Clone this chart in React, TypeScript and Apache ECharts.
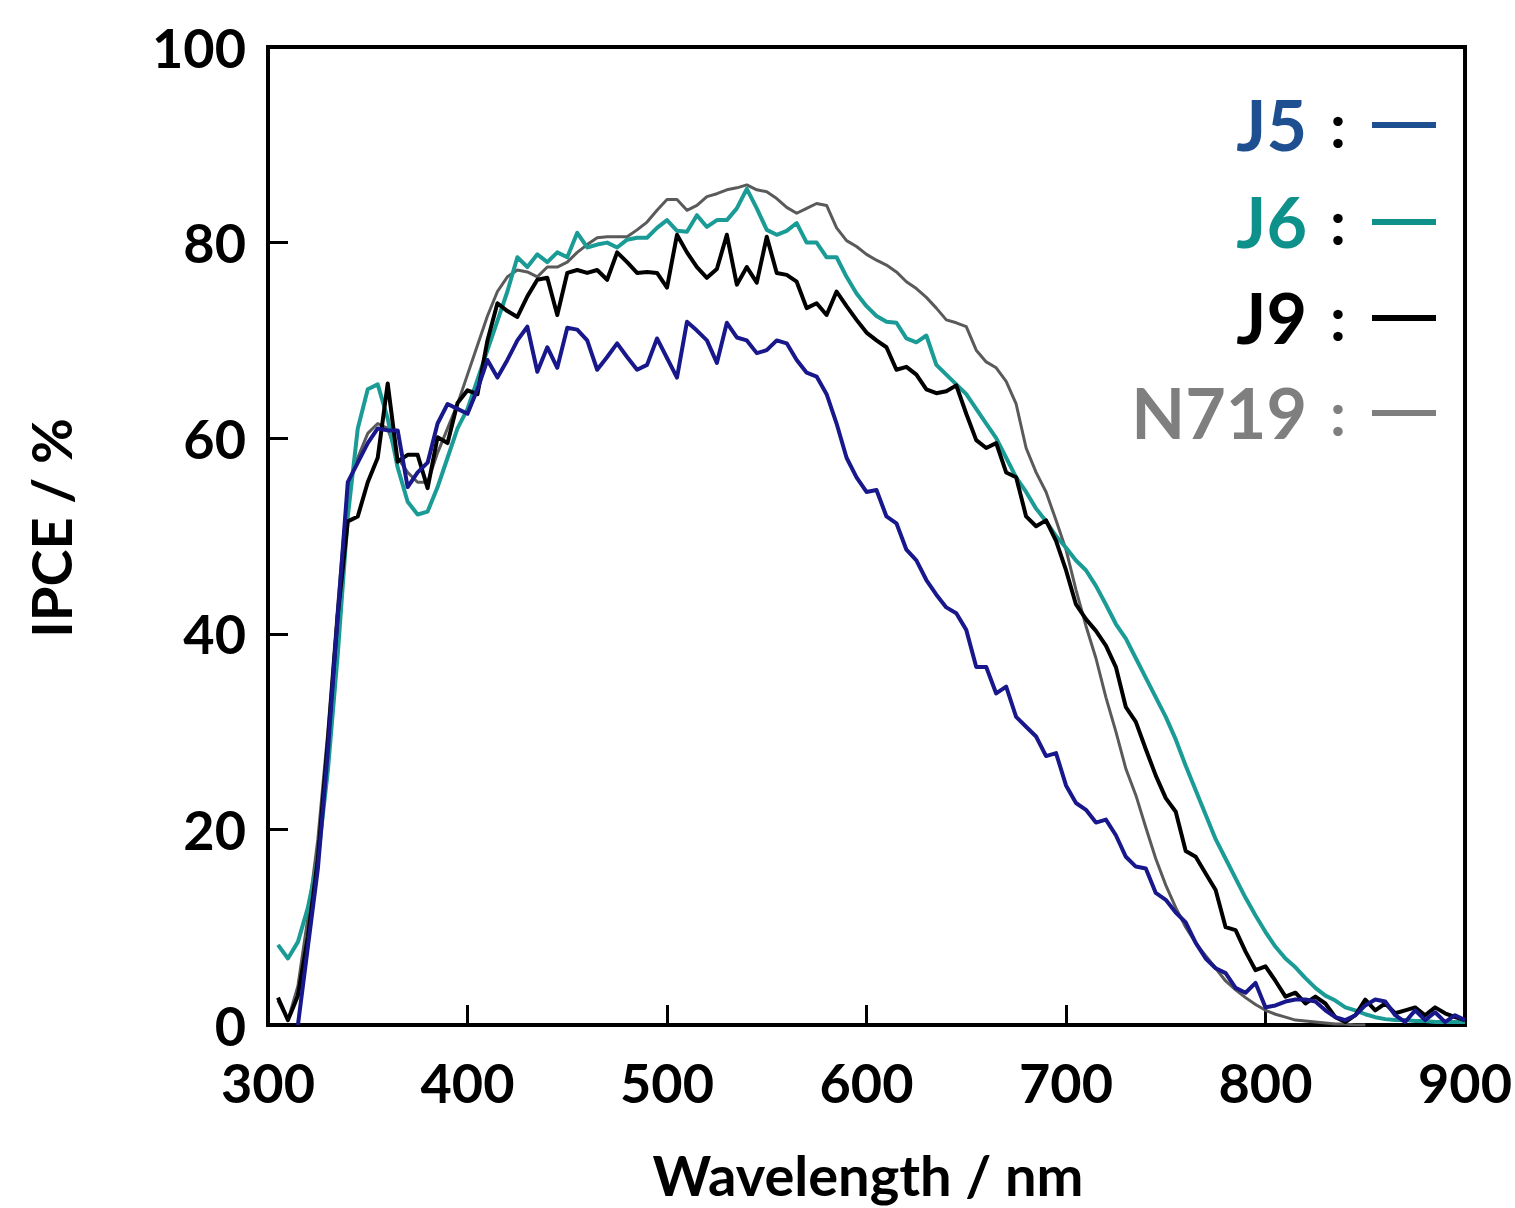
import React, { useEffect, useRef } from "react";
import * as echarts from "echarts";

const wavelengths: number[] = [];
for (let w = 305; w <= 900; w += 5) wavelengths.push(w);

const xTicks = [300, 400, 500, 600, 700, 800, 900];
const yTicks = [0, 20, 40, 60, 80, 100];

const j6 = [
  8.2, 6.8, 8.5, 12, 17, 26, 38, 52, 61, 65,
  65.5, 62, 57, 53.5, 52.2, 52.5, 55, 58, 61, 63,
  66, 69, 72, 75, 78.5, 77.5, 78.8, 78, 79, 78.5,
  81, 79.5, 79.8, 80, 79.5, 80.3, 80.5, 80.5, 81.5, 82.3,
  81.2, 81.1, 82.8, 81.6, 82.3, 82.3, 83.5, 85.5, 83.5, 81.3,
  80.8, 81.2, 82, 80, 80, 78.5, 78.5, 76.5, 74.8, 73.5,
  72.5, 71.9, 71.8, 70.2, 69.8, 70.5, 67.5, 66.5, 65.5, 64.5,
  63, 61.5, 60, 58, 56, 54.5, 52.8, 51.5, 50, 48.8,
  47.5, 46.5, 44.9, 43, 41, 39.5, 37.5, 35.5, 33.5, 31.5,
  29.2, 26.5, 24, 21.5, 19, 17, 15, 13, 11.2, 9.5,
  8, 6.8, 5.9, 4.8, 3.8, 3, 2.5, 1.8, 1.5, 1.1,
  0.8, 0.6, 0.5, 0.5, 0.4, 0.4, 0.3, 0.3, 0.3, 0.3,
];

const j5 = [
  null, null, 0, 8, 16, 28, 42, 55.5, 57.5, 59.5,
  61, 60.8, 60.8, 55, 56.5, 57.5, 61.5, 63.5, 63, 62.5,
  65, 68, 66.2, 68, 70, 71.4, 66.8, 69.3, 67.2, 71.3,
  71.1, 70, 67, 68.3, 69.7, 68.3, 67, 67.5, 70.2, 68.2,
  66.2, 71.9, 71, 70, 67.7, 71.8, 70.3, 70, 68.7, 69,
  70, 69.7, 68, 66.7, 66.3, 64.5, 61.5, 58, 56, 54.5,
  54.7, 52, 51.3, 48.6, 47.5, 45.5, 44, 42.7, 42.1, 40.4,
  36.6, 36.6, 33.9, 34.6, 31.5, 30.5, 29.5, 27.5, 27.8, 24.5,
  22.7, 22, 20.7, 21, 19.4, 17.2, 16.2, 16, 13.5, 12.8,
  11.5, 10.5, 8.4, 6.8, 5.8, 5.3, 3.8, 3.3, 4.3, 1.8,
  2, 2.4, 2.6, 2.6, 2.4, 1.5, 0.8, 0.5, 1, 2,
  2.6, 2.4, 1, 0.3, 1.5, 0.5, 1.3, 0.3, 1, 0.5,
];

const j9 = [
  2.8, 0.5, 3, 9, 17, 29, 42, 51.5, 52, 55.5,
  58, 65.6, 57.6, 58.3, 58.3, 54.9, 60.1, 59.5, 63.6, 64.9,
  64.5, 70, 73.8, 73, 72.4, 74.5, 76.2, 76.4, 72.6, 76.9,
  77.2, 76.9, 77.2, 76.2, 79, 78, 76.9, 77, 76.9, 75.4,
  80.8, 79, 77.5, 76.4, 77.3, 80.8, 75.7, 77.5, 75.9, 80.6,
  76.9, 76.7, 76, 73.3, 73.8, 72.6, 75, 73.5, 72.1, 70.8,
  70, 69.3, 67, 67.3, 66.5, 65, 64.6, 64.8, 65.4, 62.5,
  59.8, 59, 59.5, 56.5, 56, 52, 51, 51.6, 49.5, 46.5,
  43, 41.5, 40.3, 38.8, 36.6, 32.5, 31, 28.2, 25.5, 23.2,
  21.8, 17.8, 17.2, 15.5, 13.8, 10, 9.7, 7.5, 5.6, 6,
  4.5, 2.9, 3.3, 2.2, 2.9, 2.2, 0.8, 0.3, 1, 2.6,
  1.5, 2.2, 1.2, 1.5, 1.8, 1, 1.8, 1.2, 0.8, 0.5,
];

const n719 = [
  2.5, 0.5, 4, 11, 19, 30, 43, 55, 58, 60.5,
  61.5, 61, 58, 56.5, 55.5, 55.5, 58.5, 61, 63.5, 66.5,
  69.5, 72.5, 75, 76.5, 77.2, 77, 76.5, 77.5, 77.5, 78,
  79, 79.8, 80.5, 80.6, 80.6, 80.6, 81.3, 82.1, 83.3, 84.4,
  84.4, 83.3, 83.8, 84.7, 85, 85.4, 85.6, 85.9, 85.4, 85.2,
  84.5, 83.6, 83, 83.5, 84, 83.8, 81.5, 80.2, 79.6, 78.8,
  78.2, 77.7, 77, 76, 75.3, 74.4, 73.3, 72.1, 71.8, 71.4,
  69, 67.8, 67.2, 65.8, 63.5, 59, 56.5, 54.5, 51.6, 48.6,
  44.5, 40.8, 37.5, 33.5, 30, 26.2, 23.5, 20.2, 17, 14.3,
  12, 10, 8.4, 7.1, 5.8, 4.5, 3.6, 2.8, 2.1, 1.5,
  1.1, 0.8, 0.5, 0.4, 0.3, 0.2, 0.1, 0.1, 0, 0,
  null, null, null, null, null, null, null, null, null, null,
];

const seriesNames = ["N719", "J6", "J9", "J5"];
const seriesValues = [n719, j6, j9, j5];
const lineColors = ["#5a5a5a", "#1a9b96", "#000000", "#18188c"];
const lineWidths = [3, 4, 4, 4];

const legendNames = ["J5", "J6", "J9", "N719"];
const legendTextColors = ["#1d4f91", "#0f918b", "#000000", "#7f7f7f"];
const legendColonColors = ["#000000", "#000000", "#000000", "#7f7f7f"];
const legendLineColors = ["#1d4f91", "#0f918b", "#000000", "#7f7f7f"];

const FONT = "Lato, 'Open Sans', sans-serif";

export default function App() {
  const ref = useRef<HTMLDivElement>(null);
  useEffect(() => {
    if (!ref.current) return;
    const chart = echarts.init(ref.current, undefined, { renderer: "svg" });
    const graphics: any[] = [];
    const rowY = [124, 221, 317, 412];
    legendNames.forEach((name, i) => {
      graphics.push({
        type: "text",
        x: 1307,
        y: rowY[i],
        style: {
          text: name,
          fill: legendTextColors[i],
          font: `bold 70px ${FONT}`,
          textAlign: "right",
          textVerticalAlign: "middle",
        },
      });
      graphics.push({
        type: "text",
        x: 1338,
        y: rowY[i],
        style: {
          text: ":",
          fill: legendColonColors[i],
          font: `bold 62px ${FONT}`,
          textAlign: "center",
          textVerticalAlign: "middle",
        },
      });
      graphics.push({
        type: "line",
        shape: { x1: 1372, y1: rowY[i] + 1, x2: 1436, y2: rowY[i] + 1 },
        style: { stroke: legendLineColors[i], lineWidth: 6 },
      });
    });
    graphics.push({
      type: "text",
      x: 868,
      y: 1174,
      style: {
        text: "Wavelength / nm",
        fill: "#000",
        font: `bold 56px ${FONT}`,
        textAlign: "center",
        textVerticalAlign: "middle",
      },
    });
    graphics.push({
      type: "text",
      x: 50,
      y: 528,
      rotation: Math.PI / 2,
      style: {
        text: "IPCE / %",
        fill: "#000",
        font: `bold 56px ${FONT}`,
        textAlign: "center",
        textVerticalAlign: "middle",
      },
    });

    chart.setOption({
      animation: false,
      backgroundColor: "#ffffff",
      grid: {
        left: 268,
        top: 47,
        width: 1200,
        height: 978,
        show: true,
        borderColor: "#000",
        borderWidth: 4,
        backgroundColor: "transparent",
      },
      xAxis: {
        type: "value",
        min: xTicks[0],
        max: xTicks[xTicks.length - 1],
        interval: 100,
        axisLine: { show: true, onZero: false, lineStyle: { color: "#000", width: 4 } },
        axisTick: { show: true, inside: true, length: 20, lineStyle: { color: "#000", width: 3 } },
        splitLine: { show: false },
        axisLabel: {
          margin: 30,
          color: "#000",
          fontSize: 54,
          fontWeight: "bold",
          fontFamily: FONT,
        },
      },
      yAxis: {
        type: "value",
        min: yTicks[0],
        max: yTicks[yTicks.length - 1],
        interval: 20,
        axisLine: { show: true, lineStyle: { color: "#000", width: 4 } },
        axisTick: { show: true, inside: true, length: 20, lineStyle: { color: "#000", width: 3 } },
        splitLine: { show: false },
        axisLabel: {
          margin: 22,
          color: "#000",
          fontSize: 54,
          fontWeight: "bold",
          fontFamily: FONT,
        },
      },
      graphic: graphics,
      series: seriesNames.map((name, i) => ({
        name,
        type: "line",
        showSymbol: false,
        connectNulls: false,
        clip: true,
        lineStyle: { color: lineColors[i], width: lineWidths[i], join: "round" },
        itemStyle: { color: lineColors[i] },
        data: wavelengths.map((w, k) => [w, seriesValues[i][k]]),
      })),
    });
    return () => chart.dispose();
  }, []);
  return (
    <div
      ref={ref}
      style={{ position: "absolute", left: 0, top: 0, width: 1515, height: 1208 }}
    />
  );
}
